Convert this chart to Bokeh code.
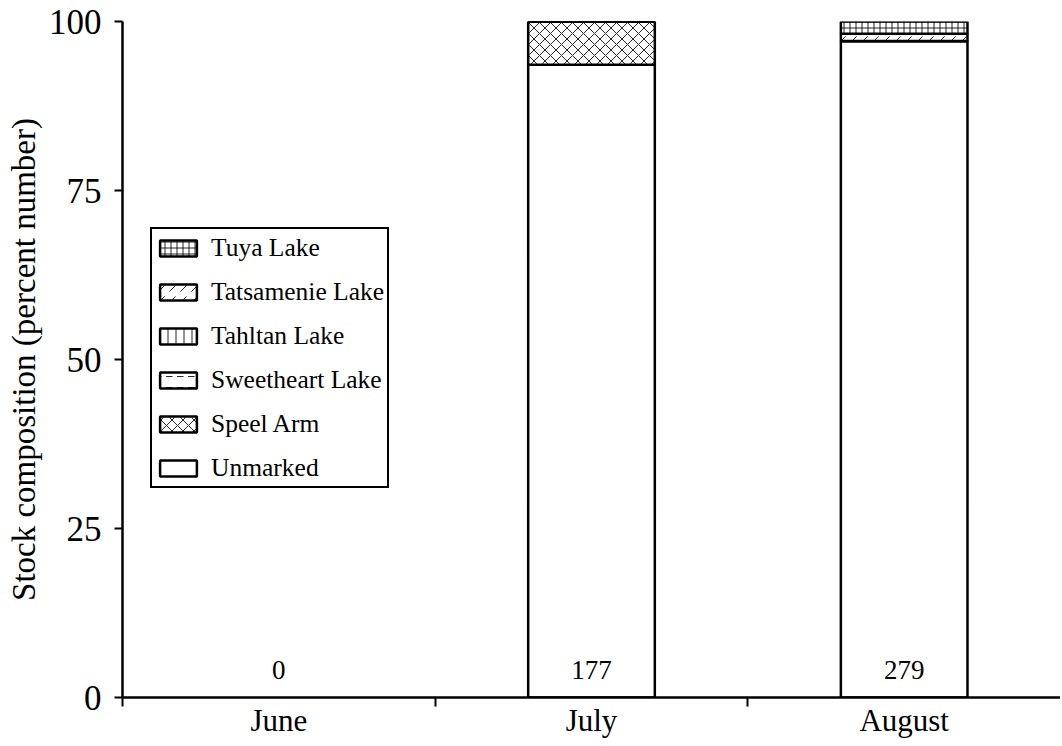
from bokeh.plotting import figure
from bokeh.models import ColumnDataSource, Legend, LegendItem, FixedTicker
from bokeh.embed import file_html
from bokeh.resources import INLINE
from bokeh.core.properties import value

months = ["June", "July", "August"]
stocks = ["Unmarked", "Speel Arm", "Sweetheart Lake", "Tahltan Lake", "Tatsamenie Lake", "Tuya Lake"]
unmarked = [0.0, 93.6, 97.1]
speel_arm = [0.0, 6.4, 0.0]
sweetheart = [0.0, 0.0, 0.0]
tahltan = [0.0, 0.0, 0.0]
tatsamenie = [0.0, 0.0, 1.1]
tuya = [0.0, 0.0, 1.8]
sample_sizes = ["0", "177", "279"]
y_ticks = [0, 25, 50, 75, 100]

FONT = "Liberation Serif"

series = [unmarked, speel_arm, sweetheart, tahltan, tatsamenie, tuya]
centers = [i + 0.5 for i in range(len(months))]
keep = [i for i in range(len(months)) if sum(s[i] for s in series) > 0]
data = {"x": [centers[i] for i in keep]}
for name, s in zip(stocks, series):
    data[name] = [s[i] for i in keep]
src = ColumnDataSource(data)

p = figure(x_range=(0, len(months)), y_range=(0, 100), width=1060, height=744,
           output_backend="svg", toolbar_location=None,
           min_border_left=122, min_border_right=0, min_border_top=21, min_border_bottom=47)
p.outline_line_color = None
p.grid.visible = False

patterns = [" ", "diagonal_cross", "horizontal_dash", "vertical_line", "right_diagonal_dash", "cross"]
scales = [11, 11, 11, 8, 11, 6]
renderers = p.vbar_stack(stocks, x="x", width=0.405, source=src,
                         fill_color="white", line_color="black", line_width=2.5,
                         hatch_pattern=patterns, hatch_color="black", hatch_alpha=0.85,
                         hatch_scale=scales, hatch_weight=1)

p.text(x=centers, y=[4] * len(months), text=sample_sizes, text_align="center", text_baseline="middle",
       text_font=value(FONT), text_font_size="27px", text_color="black")

items = [LegendItem(label=s, renderers=[r]) for s, r in zip(stocks, renderers)][::-1]
legend = Legend(items=items, location=(28, 209), border_line_color="black", border_line_width=2,
                border_line_alpha=1,
                label_text_font=FONT, label_text_font_size="25.5px", label_text_color="black",
                glyph_width=46, glyph_height=20,
                label_height=31, spacing=13, padding=3, margin=0, label_standoff=10,
                background_fill_alpha=1)
p.add_layout(legend, "center")

p.yaxis.ticker = FixedTicker(ticks=y_ticks)
p.yaxis.axis_label = "Stock composition (percent number)"
p.yaxis.axis_label_text_font = FONT
p.yaxis.axis_label_text_font_style = "normal"
p.yaxis.axis_label_text_font_size = "33px"
p.yaxis.axis_label_standoff = 4
p.yaxis.major_label_text_font = FONT
p.yaxis.major_label_text_font_size = "35px"
p.yaxis.major_tick_out = 8
p.yaxis.major_tick_in = 0
p.yaxis.minor_tick_out = 0
p.yaxis.minor_tick_in = 0
p.yaxis.major_label_standoff = 13

p.xaxis.ticker = FixedTicker(ticks=centers, minor_ticks=[float(i) for i in range(len(months))])
p.xaxis.major_label_overrides = {c: m for c, m in zip(centers, months)}
p.xaxis.major_label_text_font = FONT
p.xaxis.major_label_text_font_size = "31px"
p.xaxis.major_tick_line_color = None
p.xaxis.major_tick_out = 0
p.xaxis.major_tick_in = 0
p.xaxis.minor_tick_out = 9
p.xaxis.minor_tick_in = 0
p.xaxis.minor_tick_line_width = 2
p.xaxis.minor_tick_line_color = "black"
p.xaxis.major_label_standoff = -4
for ax in (p.xaxis, p.yaxis):
    ax.axis_line_width = 2.5
    ax.axis_line_color = "black"
    ax.major_tick_line_width = 2
    ax.major_label_text_color = "black"
    ax.axis_label_text_color = "black"

open("out.html", "w").write(file_html(p, INLINE))
